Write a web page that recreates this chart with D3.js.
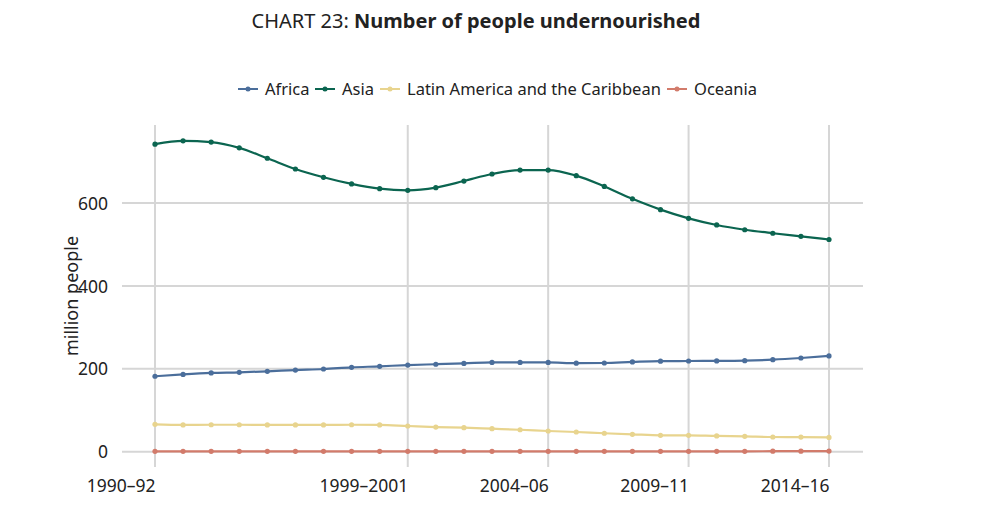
<!DOCTYPE html>
<html><head><meta charset="utf-8">
<script src="https://cdn.jsdelivr.net/npm/d3@7"></script>
<style>
body{margin:0;background:#fff;}
svg{display:block;font-family:"Noto Sans","Open Sans",sans-serif;}
</style></head><body>
<svg id="c" width="1000" height="514"></svg>
<script>
const periods = ["1990–92","1991–93","1992–94","1993–95","1994–96","1995–97","1996–98","1997–99","1998–2000","1999–2001","2000–02","2001–03","2002–04","2003–05","2004–06","2005–07","2006–08","2007–09","2008–10","2009–11","2010–12","2011–13","2012–14","2013–15","2014–16"];
const tickLabels = ["1990–92","1999–2001","2004–06","2009–11","2014–16"];
const yTicks = [0,200,400,600];
const africa = [182,186.5,190,191.5,194,197,199.5,203.5,206,209,211,213,215.5,215.5,215.5,213.5,214,216.5,218.5,218.8,219,219.7,222,226,231];
const asia = [742,750,747,733,708,682,662,646,634.5,630.5,637,653,670,679.5,679.5,666,640,610,584,563,547,535.5,527,519.5,512];
const latam = [66,64.5,65,65,64.5,64.5,64.5,65,64.5,62,59.5,58,55.5,53,50,47.5,44.5,42,39.6,39.5,38,37,35.5,35.3,34.5];
const oceania = [1,1,1,1,1,1,1,1,1,1,1,1,1,1,1,1,1,1,1,1,1,1,1.2,1.3,1.4];
const seriesNames = ["Africa","Asia","Latin America and the Caribbean","Oceania"];
const seriesColors = ["#4b6e9b","#0b6550","#e8d48e","#d27b6b"];

const series = [africa, asia, latam, oceania].map((v,i)=>({name:seriesNames[i], color:seriesColors[i], values:v}));

const svg = d3.select("#c");
const x = d3.scalePoint().domain(periods).range([155,829]);
const y = d3.scaleLinear().domain([0,600]).range([451.7,203]);

// title
const t = svg.append("text").attr("x",476).attr("y",28).attr("text-anchor","middle")
  .attr("font-size",20).attr("fill","#222");
t.append("tspan").text("CHART 23: ");
t.append("tspan").attr("font-weight","bold").text("Number of people undernourished");

// grid
const g = svg.append("g");
g.selectAll(".hg").data(yTicks).join("line")
  .attr("x1",122).attr("x2",863).attr("y1",d=>y(d)).attr("y2",d=>y(d))
  .attr("stroke","#d6d6d6").attr("stroke-width",2);
g.selectAll(".vg").data(tickLabels).join("line")
  .attr("x1",d=>x(d)).attr("x2",d=>x(d)).attr("y1",125).attr("y2",467)
  .attr("stroke","#d6d6d6").attr("stroke-width",2);

// y labels
const yAxis = d3.axisLeft(y).tickValues(yTicks).tickSize(0).tickPadding(0);
const ya = svg.append("g").attr("transform","translate(108,0)").call(yAxis);
ya.select(".domain").remove();
ya.selectAll("text").attr("font-size",17.5).attr("fill","#222").attr("font-family","Noto Sans, Open Sans, sans-serif").attr("dy","0.35em");

// x labels (right-aligned at gridline)
const xAxis = d3.axisBottom(x).tickValues(tickLabels).tickSize(0).tickPadding(0);
const xa = svg.append("g").attr("transform","translate(0,486)").call(xAxis);
xa.select(".domain").remove();
xa.selectAll("text").attr("font-size",17.5).attr("fill","#222").attr("text-anchor","end")
  .attr("font-family","Noto Sans, Open Sans, sans-serif").attr("dy","0.35em");

// y axis title
svg.append("text").attr("transform","translate(78,296) rotate(-90)").attr("text-anchor","middle")
  .attr("font-size",18).attr("fill","#222").text("million people");

// lines
const line = d3.line().x((d,i)=>x(periods[i])).y(d=>y(d)).curve(d3.curveMonotoneX);
const sg = svg.append("g").selectAll("g").data([series[3],series[2],series[0],series[1]]).join("g");
sg.append("path").attr("d",d=>line(d.values)).attr("fill","none").attr("stroke",d=>d.color).attr("stroke-width",2.2);
sg.each(function(s){
  d3.select(this).selectAll("circle").data(s.values).join("circle")
    .attr("cx",(d,i)=>x(periods[i])).attr("cy",d=>y(d)).attr("r",2.6).attr("fill",s.color);
});

// legend
const legX = [238,315,380,667];
const lg = svg.append("g").selectAll("g").data(series).join("g")
  .attr("transform",(d,i)=>`translate(${legX[i]},89)`);
lg.append("line").attr("x1",0).attr("x2",20).attr("stroke",d=>d.color).attr("stroke-width",2);
lg.append("circle").attr("cx",10).attr("r",2.5).attr("fill",d=>d.color);
lg.append("text").attr("x",27).attr("dy","0.35em").attr("font-size",16.5).attr("fill","#222").text(d=>d.name);
</script>
</body></html>
